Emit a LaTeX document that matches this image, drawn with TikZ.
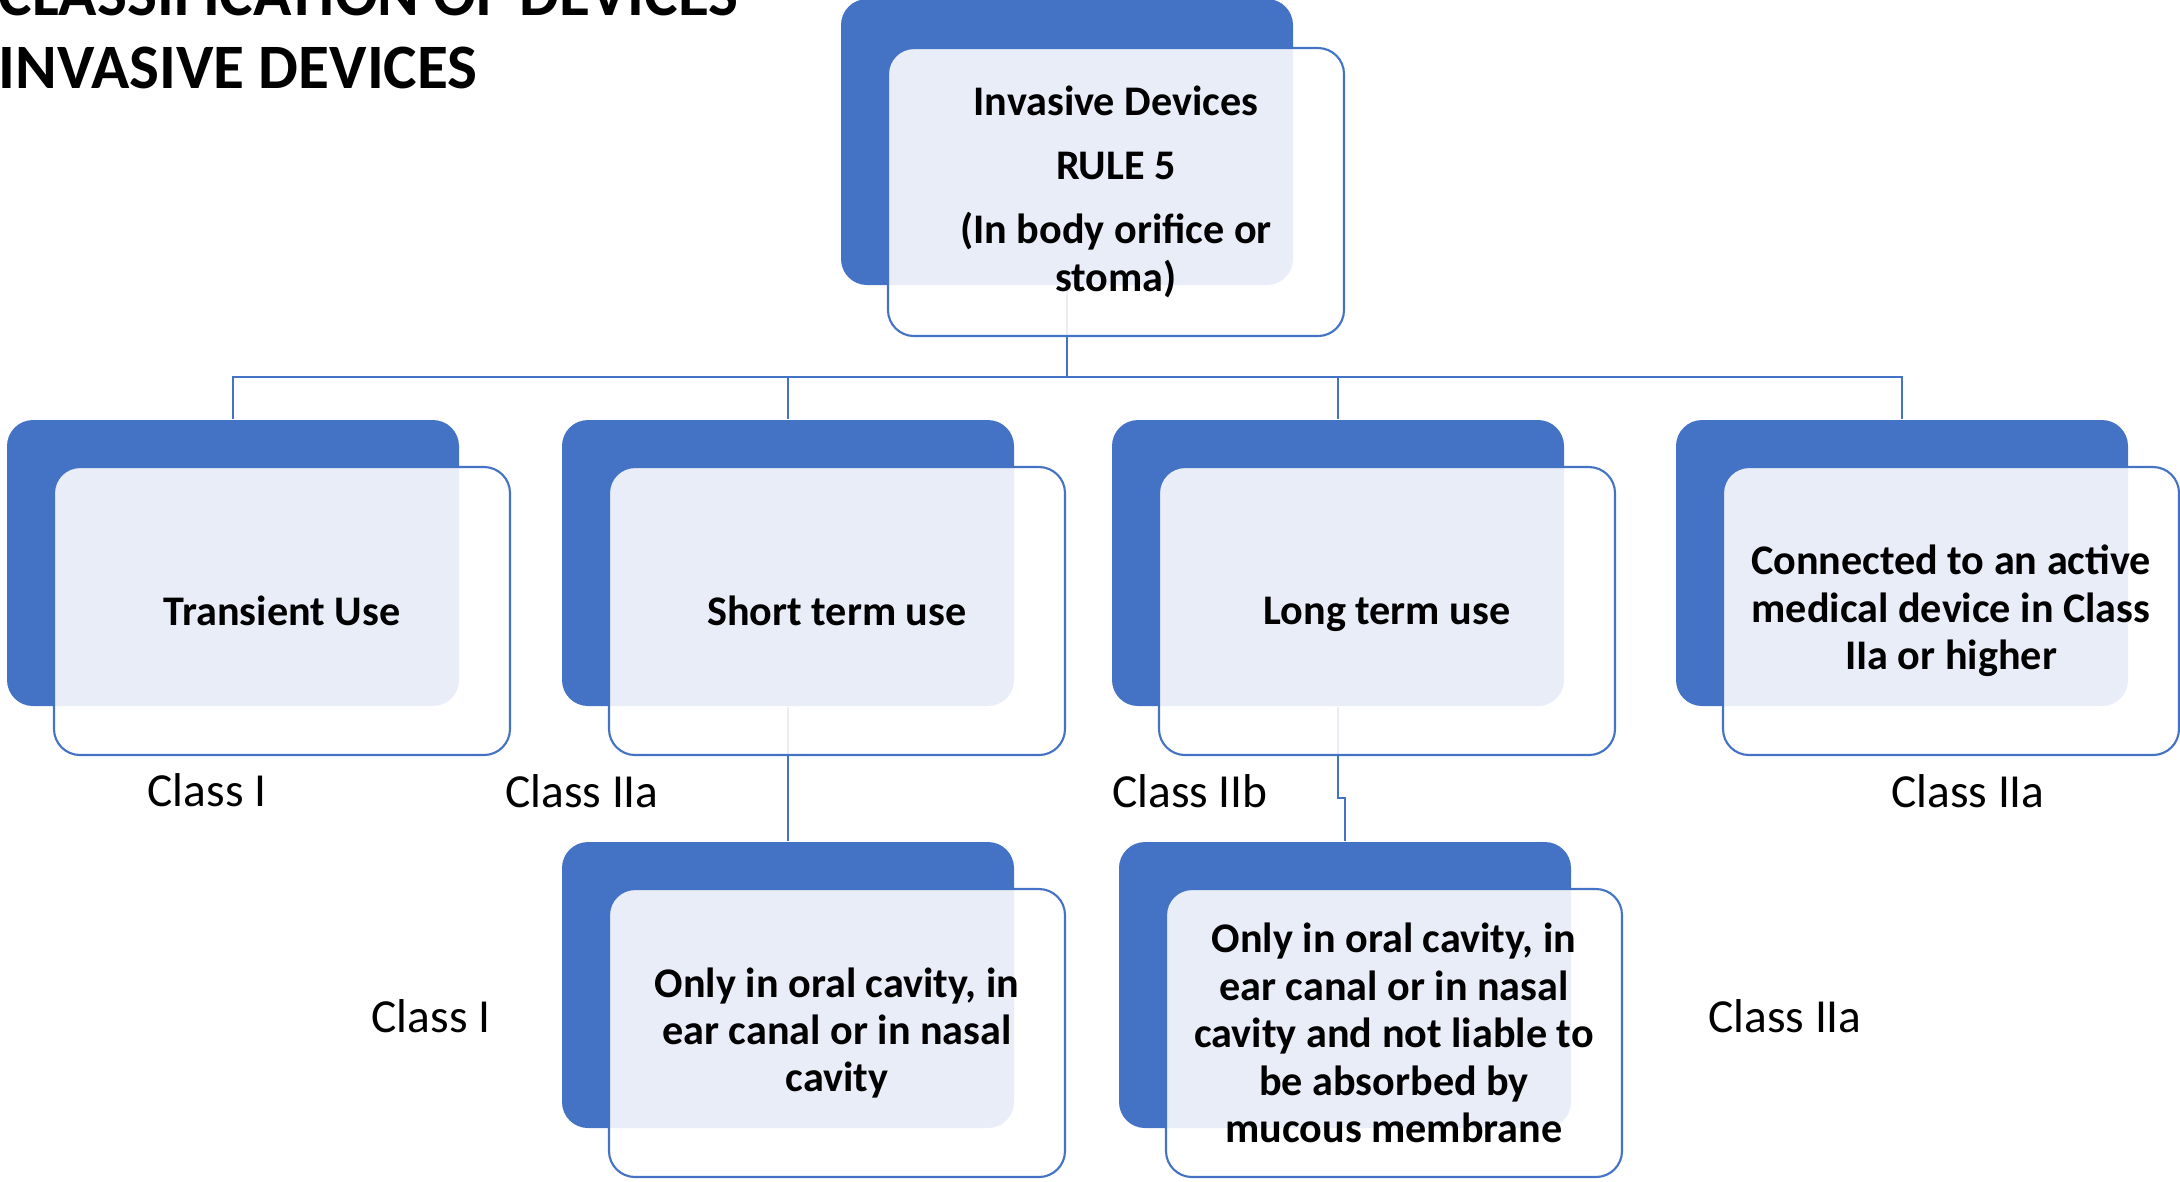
\documentclass[tikz,border=0pt]{standalone}
\usepackage{fontspec}
\setmainfont{Carlito}
\definecolor{accentblue}{HTML}{4472C4}

\begin{document}
\begin{tikzpicture}[x=0.1mm,y=-0.1mm,
    back/.style={fill=accentblue, rounded corners=2.6mm, minimum width=45.2mm, minimum height=28.6mm, inner sep=0pt},
    front/.style={draw=accentblue, line width=0.6pt, fill=white, fill opacity=0.88, text opacity=1,
      rounded corners=2.6mm, minimum width=45.6mm, minimum height=28.8mm, inner sep=0pt, align=center,
      font=\fontsize{12}{13.5}\selectfont\bfseries},
    link/.style={draw=accentblue, line width=0.8pt},
    cls/.style={font=\fontsize{13.5}{16}\selectfont, inner sep=0pt},
    head/.style={anchor=base west, inner sep=0pt, font=\fontsize{18}{22}\selectfont\bfseries}]
    \useasboundingbox (0,0) rectangle (2180,1181);
    \clip (0,0) rectangle (2180,1181);

    % Titre
    \node[head] (title1) at (-2,15) {CLASSIFICATION OF DEVICES};
    \node[head] (title2) at (-2,88) {INVASIVE DEVICES};

    % Boites du fond
    \node[back] (topD) at (1067,142) {};
    \node[back] (d1) at (233,563) {};
    \node[back] (d2) at (788,563) {};
    \node[back] (d3) at (1338,563) {};
    \node[back] (d4) at (1902,563) {};
    \node[back] (d5) at (788,985) {};
    \node[back] (d6) at (1345,985) {};

    % Liaisons
    \coordinate (bus) at (0,377);
    \foreach \n in {d1,d2,d3,d4}
        \draw[link] (topD.south) -- (topD.south |- bus) -| (\n.north);
    \draw[link] (d2.south) -- (d5.north);
    \coordinate (jog) at (0,798);
    \draw[link] (d3.south) -- (d3.south |- jog) -| (d6.north);

    % Boites avec texte
    \node[front] (top) at (1116,192) {Invasive Devices\\[4.7pt] RULE 5\\[4.7pt] (In body orifice or\\ stoma)};
    \node[front] (l1) at (282,611) {Transient Use};
    \node[front] (l2) at (837,611) {Short term use};
    \node[front, text depth=0pt] (l3) at (1387,611) {Long term use};
    \node[front] (l4) at (1951,611) {Connected to an active\\ medical device in Class\\ IIa or higher};
    \node[front] (l5) at (837,1033) {Only in oral cavity, in\\ ear canal or in nasal\\ cavity};
    \node[front] (l6) at (1394,1033) {Only in oral cavity, in\\ ear canal or in nasal\\ cavity and not liable to\\ be absorbed by\\ mucous membrane};

    % Classes
    \node[cls] (c1) at (207,790) {Class I};
    \node[cls] (c2) at (582,791) {Class IIa};
    \node[cls] (c3) at (1190,791) {Class IIb};
    \node[cls] (c4) at (1968,791) {Class IIa};
    \node[cls] (c5) at (431,1016) {Class I};
    \node[cls] (c6) at (1785,1016) {Class IIa};
\end{tikzpicture}
\end{document}
